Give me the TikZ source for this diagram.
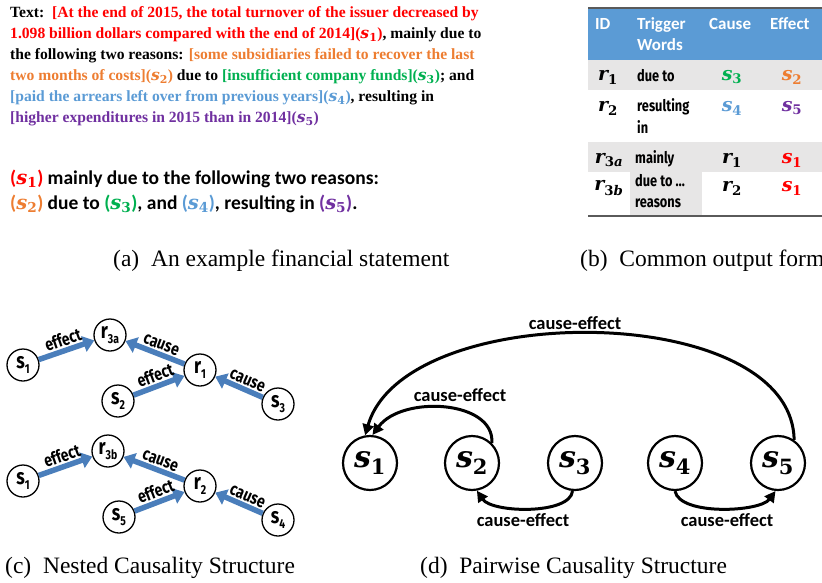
\documentclass[tikz,border=0pt]{standalone}
\usepackage[no-math]{fontspec}
\setmainfont{Liberation Serif}
\newfontfamily\carl{Carlito}
\newfontfamily\cond[FakeStretch=0.8]{Fira Sans}
\newfontfamily\mfont{DejaVu Serif}
\usetikzlibrary{arrows.meta}
\definecolor{cred}{RGB}{255,0,0}
\definecolor{corange}{RGB}{237,125,49}
\definecolor{cgreen}{RGB}{0,176,80}
\definecolor{cblue}{RGB}{91,155,213}
\definecolor{cpurple}{RGB}{112,48,160}
\definecolor{hdr}{RGB}{91,155,213}
\definecolor{rowgray}{RGB}{231,230,230}
\definecolor{rulegray}{RGB}{90,90,90}
\definecolor{arrowblue}{RGB}{74,126,187}
\newcommand{\sv}[1]{{\mfont\bfseries\itshape s}\textsubscript{\mfont\bfseries #1}}
\newcommand{\rv}[1]{{\mfont\bfseries\itshape r}\textsubscript{\mfont\bfseries #1}}
\newcommand{\cs}[2]{#1\raisebox{-0.22em}{\fontsize{13}{13}\selectfont #2}}
\tikzset{
  stext/.style={anchor=base west, inner sep=0pt, font=\fontsize{15.6}{18}\selectfont\bfseries},
  ctext/.style={anchor=base west, inner sep=0pt, font=\carl\fontsize{19.5}{22}\selectfont\bfseries},
  capt/.style={anchor=base west, inner sep=0pt, font=\fontsize{23.5}{26}\selectfont},
  hd/.style={anchor=base west, inner sep=0pt, text=white, font=\carl\fontsize{17}{20}\selectfont\bfseries},
  tw/.style={anchor=base west, inner sep=0pt, font=\cond\fontsize{16}{18}\selectfont\bfseries},
  tm/.style={inner sep=0pt, font=\fontsize{19}{20}\selectfont},
  cnode/.style={circle, draw, line width=1.3pt, minimum size=32pt, inner sep=0pt, fill=white,
    font=\cond\fontsize{22}{22}\selectfont\bfseries},
  barrow/.style={draw=arrowblue, line width=5.5pt},
  btip/.style={-{Triangle[length=11pt,width=16pt]}},
  btipr/.style={{Triangle[length=11pt,width=16pt]}-},
  blab/.style={sloped, above=0.5pt, inner sep=1pt, font=\cond\fontsize{17.5}{17}\selectfont\bfseries},
  dnode/.style={circle, draw, line width=2.2pt, minimum size=54pt, inner sep=0pt,
    font=\fontsize{30}{30}\selectfont},
  darrow/.style={line width=3pt, -{Triangle[length=11pt,width=11pt]}},
  dlab/.style={inner sep=0pt, font=\carl\fontsize{18.5}{20}\selectfont\bfseries},
}
\begin{document}
\begin{tikzpicture}[x=1pt,y=-1pt]
\useasboundingbox (0,0) rectangle (822,582);
\clip (0,0) rectangle (822,582);
% ---------- (a) ----------
\node[stext] (t1) at (10,17) {Text:\ \ \textcolor{cred}{[At the end of 2015, the total turnover of the issuer decreased by}};
\node[stext] (t2) at (10,38) {\textcolor{cred}{1.098 billion dollars compared with the end of 2014](\sv1)}, mainly due to};
\node[stext] (t3) at (10,59) {the following two reasons: \textcolor{corange}{[some subsidiaries failed to recover the last}};
\node[stext] (t4) at (10,80) {\textcolor{corange}{two months of costs](\sv2)} due to \textcolor{cgreen}{[insufficient company funds](\sv3)}; and};
\node[stext] (t5) at (10,101) {\textcolor{cblue}{[paid the arrears left over from previous years](\sv4)}, resulting in};
\node[stext] (t6) at (10,122) {\textcolor{cpurple}{[higher expenditures in 2015 than in 2014](\sv5)}};
\node[ctext] (c1) at (10,184) {\textcolor{cred}{(\sv1)} mainly due to the following two reasons:};
\node[ctext] (c2) at (10,209) {\textcolor{corange}{(\sv2)} due to \textcolor{cgreen}{(\sv3)}, and \textcolor{cblue}{(\sv4)}, resulting in \textcolor{cpurple}{(\sv5)}.};
\node[capt] (capa) at (113,266) {(a)\ \ An example financial statement};
% ---------- (b) ----------
\fill[hdr] (588,9) rectangle (822,60);
\fill[rowgray] (588,60) rectangle (822,90);
\fill[rowgray] (588,142) rectangle (822,172);
\fill[rowgray] (630,172) rectangle (702,215);
\draw[rulegray, line width=2pt] (588,8) -- (822,8);
\draw[rulegray, line width=2.5pt] (588,216) -- (822,216);
\node[hd] (hid) at (595,29) {ID};
\node[hd] (htr) at (637,29) {Trigger};
\node[hd] (hwo) at (637,50) {Words};
\node[hd] (hca) at (709,29) {Cause};
\node[hd] (hef) at (770,29) {Effect};
\node[tm] (r1id) at (608,77) {\rv1};
\node[tw] (r1tw) at (637,81) {due to};
\node[tm] (r1c) at (732,77) {\textcolor{cgreen}{\sv3}};
\node[tm] (r1e) at (792,77) {\textcolor{corange}{\sv2}};
\node[tm] (r2id) at (608,108) {\rv2};
\node[tw] (r2tw) at (637,111) {resulting};
\node[tw] (r2tw2) at (637,133) {in};
\node[tm] (r2c) at (732,108) {\textcolor{cblue}{\sv4}};
\node[tm] (r2e) at (792,108) {\textcolor{cpurple}{\sv5}};
\node[tm] (r3id) at (609,160) {{\mfont\bfseries\itshape r}\textsubscript{\mfont\bfseries 3\itshape a}};
\node[tw] (r3tw) at (635,163) {mainly};
\node[tm] (r3c) at (732,160) {\rv1};
\node[tm] (r3e) at (792,160) {\textcolor{cred}{\sv1}};
\node[tm] (r4id) at (609,188) {{\mfont\bfseries\itshape r}\textsubscript{\mfont\bfseries 3\itshape b}};
\node[tw] (r4tw) at (635,186) {due to …};
\node[tw] (r4tw2) at (635,207) {reasons};
\node[tm] (r4c) at (732,188) {\rv2};
\node[tm] (r4e) at (792,188) {\textcolor{cred}{\sv1}};
\node[capt] (capb) at (580,266) {(b)\ \ Common output format};
% ---------- (c) ----------
\node[cnode] (ua) at (23,365) {\cs{s}{1}};
\node[cnode] (ub) at (110,335) {\cs{r}{3a}};
\node[cnode] (uc) at (200,370) {\cs{r}{1}};
\node[cnode] (ud) at (118,401) {\cs{s}{2}};
\node[cnode] (ue) at (278,404) {\cs{s}{3}};
\draw[barrow,btip] (ua) -- node[blab]{effect} (ub);
\draw[barrow,btipr] (ub) -- node[blab,pos=0.55]{cause} (uc);
\draw[barrow,btip] (ud) -- node[blab]{effect} (uc);
\draw[barrow,btipr] (uc) -- node[blab,pos=0.6]{cause} (ue);
\node[cnode] (la) at (23,481) {\cs{s}{1}};
\node[cnode] (lb) at (108,451) {\cs{r}{3b}};
\node[cnode] (lc) at (200,486) {\cs{r}{2}};
\node[cnode] (ld) at (119,517) {\cs{s}{5}};
\node[cnode] (le) at (278,520) {\cs{s}{4}};
\draw[barrow,btip] (la) -- node[blab]{effect} (lb);
\draw[barrow,btipr] (lb) -- node[blab,pos=0.55]{cause} (lc);
\draw[barrow,btip] (ld) -- node[blab]{effect} (lc);
\draw[barrow,btipr] (lc) -- node[blab,pos=0.6]{cause} (le);
\node[capt] (capc) at (5,573) {(c)\ \ Nested Causality Structure};
% ---------- (d) ----------
\node[dnode] (d1) at (370,463) {\sv1};
\node[dnode] (d2) at (472,463) {\sv2};
\node[dnode] (d3) at (575,463) {\sv3};
\node[dnode] (d4) at (675,463) {\sv4};
\node[dnode] (d5) at (778,463) {\sv5};
\draw[darrow] (d5.55) .. controls (792,300) and (405,298) .. (d1.100);
\draw[darrow] (d2.45) .. controls (495,400) and (402,395) .. (d1.85);
\draw[darrow] (d3.265) .. controls (570,515) and (492,513) .. (d2.280);
\draw[darrow] (d4.270) .. controls (680,516) and (760,512) .. (d5.265);
\node[dlab] (l1) at (575,323) {cause-effect};
\node[dlab] (l2) at (460,395) {cause-effect};
\node[dlab] (l3) at (523,520) {cause-effect};
\node[dlab] (l4) at (727,520) {cause-effect};
\node[capt] (capd) at (420,573) {(d)\ \ Pairwise Causality Structure};
\end{tikzpicture}
\end{document}
